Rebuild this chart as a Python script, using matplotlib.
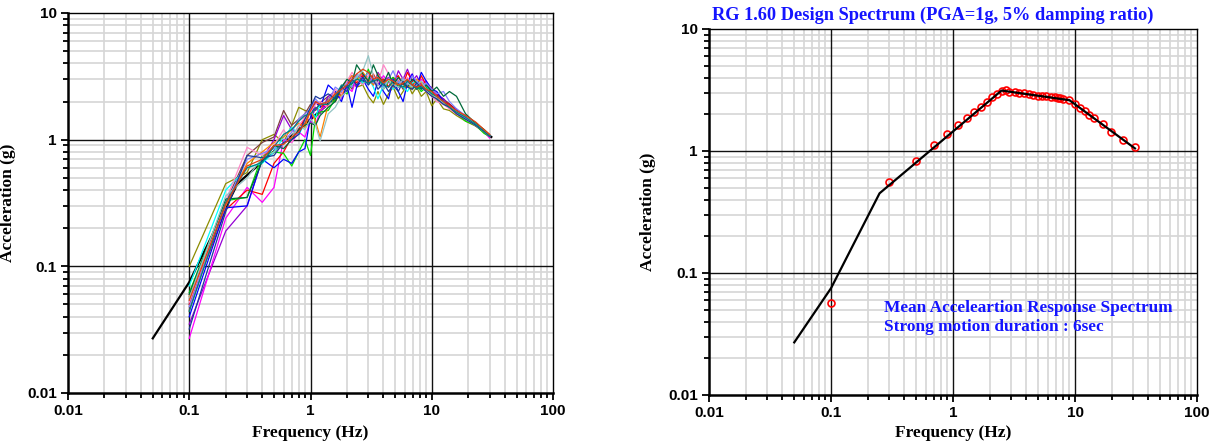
import matplotlib
matplotlib.use("Agg")
import matplotlib.pyplot as plt
from matplotlib.ticker import LogLocator, NullFormatter

# frequency grid of the individual spectra (Hz)
freq = [0.1, 0.2, 0.3, 0.4, 0.5, 0.6, 0.7, 0.8, 0.9, 1.0,
        1.1, 1.2, 1.4, 1.6, 1.8, 2.0, 2.2, 2.4, 2.7, 3.0,
        3.3, 3.6, 4.0, 4.4, 4.8, 5.3, 5.8, 6.3, 6.9, 7.5,
        8.2, 9.0, 10, 11, 12.5, 14, 16, 19, 23, 27, 30]

# response spectra of the individual time histories (g)
s_olive = [0.10, 0.45, 0.55, 1.00, 1.10, 0.95, 1.30, 1.80, 1.70, 1.65,
           1.80, 1.70, 2.10, 2.00, 2.40, 2.30, 2.90, 2.60, 2.70, 2.20,
           1.95, 2.40, 1.90, 2.30, 2.60, 2.10, 2.40, 2.80, 2.30, 2.60,
           2.20, 2.40, 1.85, 2.10, 1.75, 1.70, 1.55, 1.40, 1.28, 1.15, 1.07]
s_wine = [0.045, 0.32, 0.75, 0.95, 1.05, 1.70, 1.30, 1.45, 1.60, 1.90,
          1.70, 1.95, 2.20, 2.00, 2.60, 2.90, 2.50, 3.10, 3.40, 2.80,
          3.20, 2.70, 3.00, 2.60, 3.10, 2.90, 2.50, 3.00, 2.80, 2.50,
          2.90, 2.40, 2.60, 2.20, 2.10, 1.90, 1.65, 1.52, 1.30, 1.20, 1.08]
s_violet = [0.035, 0.19, 0.30, 0.70, 1.00, 1.55, 1.20, 1.10, 1.50, 1.40,
            1.80, 1.60, 2.20, 2.40, 2.10, 2.80, 3.20, 2.60, 3.30, 3.10,
            2.70, 3.40, 2.90, 3.10, 2.60, 3.50, 3.00, 3.60, 2.90, 3.20,
            2.70, 2.90, 2.50, 2.30, 2.10, 1.80, 1.75, 1.50, 1.33, 1.16, 1.05]
s_magenta = [0.027, 0.24, 0.42, 0.32, 0.42, 1.00, 0.95, 1.15, 1.05, 1.40,
             1.30, 1.70, 1.90, 2.30, 2.10, 2.60, 2.40, 3.00, 3.30, 2.90,
             3.10, 2.70, 3.20, 2.80, 3.00, 2.60, 3.10, 2.90, 3.30, 2.70,
             3.00, 2.80, 2.50, 2.20, 2.00, 1.80, 1.60, 1.45, 1.30, 1.15, 1.03]
s_red = [0.050, 0.28, 0.40, 0.37, 0.65, 0.80, 1.05, 1.20, 1.50, 1.60,
         2.00, 1.80, 2.00, 2.40, 2.20, 2.70, 3.00, 2.80, 3.20, 2.90,
         3.30, 2.80, 3.00, 2.60, 2.90, 3.20, 2.70, 3.40, 2.90, 2.60,
         3.20, 2.70, 2.50, 2.30, 2.00, 1.90, 1.70, 1.50, 1.33, 1.18, 1.09]
s_green = [0.062, 0.33, 0.35, 0.75, 0.80, 0.78, 0.62, 0.80, 1.00, 0.75,
           1.50, 1.65, 1.70, 2.10, 2.50, 2.30, 2.80, 3.10, 2.70, 3.60,
           2.80, 3.20, 2.50, 2.90, 3.10, 2.60, 2.80, 3.00, 2.50, 2.70,
           2.40, 2.60, 2.30, 2.10, 1.90, 1.80, 1.62, 1.40, 1.30, 1.12, 1.06]
s_blue = [0.040, 0.29, 0.30, 0.70, 0.60, 0.70, 0.65, 0.80, 0.85, 1.50,
          2.00, 1.80, 2.70, 2.40, 2.00, 2.70, 1.80, 2.60, 3.00, 2.50,
          2.20, 2.90, 2.40, 2.10, 3.00, 2.40, 2.00, 2.80, 3.30, 2.60,
          3.40, 2.90, 2.50, 2.40, 2.00, 1.85, 1.70, 1.50, 1.30, 1.17, 1.07]
s_cyan = [0.070, 0.40, 0.60, 0.65, 0.80, 1.05, 1.25, 1.10, 1.35, 1.70,
          1.50, 1.90, 2.00, 2.30, 2.60, 2.40, 3.00, 3.20, 2.80, 3.10,
          2.60, 2.10, 2.70, 3.00, 2.50, 2.90, 2.60, 2.40, 2.80, 2.90,
          2.50, 2.70, 2.30, 2.20, 2.00, 1.80, 1.66, 1.48, 1.30, 1.18, 1.08]
s_orange = [0.058, 0.30, 0.65, 0.80, 0.95, 1.05, 1.20, 1.35, 1.25, 1.70,
            1.40, 1.05, 1.90, 2.30, 2.20, 2.90, 3.20, 2.90, 3.40, 3.00,
            2.70, 3.30, 2.80, 3.00, 2.60, 2.90, 3.10, 2.70, 2.50, 3.00,
            2.80, 2.50, 2.30, 2.10, 1.95, 1.75, 1.65, 1.55, 1.35, 1.20, 1.10]
s_pink = [0.052, 0.33, 0.87, 0.75, 0.90, 1.20, 0.95, 1.30, 1.50, 1.65,
          1.90, 2.00, 1.80, 2.50, 2.30, 2.90, 3.40, 3.00, 2.70, 3.20,
          3.00, 2.80, 3.90, 3.30, 2.70, 3.00, 2.80, 3.10, 2.60, 2.80,
          2.60, 2.40, 2.20, 2.00, 1.90, 1.75, 1.60, 1.45, 1.30, 1.16, 1.06]
s_slate = [0.048, 0.31, 0.70, 0.78, 0.85, 0.95, 1.15, 1.45, 1.60, 1.75,
           2.10, 1.90, 2.00, 2.60, 2.40, 2.80, 2.60, 3.30, 3.00, 3.40,
           2.80, 3.20, 2.60, 3.00, 3.50, 2.80, 3.10, 2.70, 3.20, 2.90,
           2.60, 2.80, 2.50, 2.30, 2.40, 2.00, 1.75, 1.55, 1.35, 1.19, 1.09]
s_darkgreen = [0.060, 0.34, 0.35, 0.68, 0.90, 0.85, 1.00, 1.20, 1.30, 1.35,
               1.30, 1.55, 1.80, 2.00, 2.60, 3.00, 2.80, 3.90, 3.30, 2.90,
               3.90, 3.20, 2.80, 3.40, 2.70, 3.10, 2.80, 2.60, 3.00, 2.80,
               2.50, 2.70, 2.40, 2.60, 2.20, 2.40, 2.20, 1.60, 1.35, 1.20, 1.08]
s_cadet = [0.056, 0.36, 0.50, 0.72, 0.80, 0.92, 1.05, 1.30, 1.20, 1.45,
           1.30, 0.98, 1.60, 1.80, 2.20, 2.40, 2.90, 3.10, 3.50, 4.60,
           3.20, 2.70, 2.50, 3.00, 2.70, 2.60, 3.00, 2.80, 2.60, 2.70,
           2.90, 2.50, 2.30, 2.10, 1.95, 1.85, 1.65, 1.50, 1.32, 1.18, 1.07]
s_navy = [0.032, 0.27, 0.75, 0.72, 0.75, 0.95, 1.00, 1.10, 1.45, 1.80,
          2.20, 2.10, 2.30, 2.10, 2.60, 2.40, 3.00, 2.70, 3.10, 2.70,
          3.00, 2.50, 2.80, 2.40, 2.70, 2.40, 2.90, 2.60, 2.50, 2.80,
          2.60, 2.40, 2.20, 2.10, 1.90, 1.80, 1.60, 1.45, 1.30, 1.16, 1.06]
s_teal = [0.044, 0.32, 0.60, 0.66, 0.88, 1.10, 1.20, 1.40, 1.55, 1.60,
          1.75, 1.90, 1.90, 2.20, 2.70, 2.60, 2.80, 3.00, 2.90, 2.80,
          2.90, 3.00, 2.70, 2.60, 2.90, 2.70, 2.60, 2.90, 2.70, 2.50,
          2.60, 2.50, 2.30, 2.20, 2.00, 1.80, 1.65, 1.50, 1.32, 1.17, 1.07]
s_vermilion = [0.054, 0.31, 0.62, 0.70, 0.90, 0.92, 1.05, 1.15, 1.35, 1.70,
               2.00, 1.90, 2.00, 2.30, 2.50, 2.70, 3.00, 3.30, 3.60, 3.40,
               3.00, 3.10, 2.80, 3.00, 2.90, 2.70, 2.80, 3.00, 2.70, 2.60,
               2.70, 2.50, 2.40, 2.20, 2.00, 1.85, 1.70, 1.55, 1.38, 1.20, 1.10]

spectra = [
    (s_olive, "#8c8c00"), (s_wine, "#7f3f3f"), (s_violet, "#9400d3"),
    (s_magenta, "#ff00ff"), (s_red, "#ff0000"), (s_green, "#00dd00"),
    (s_blue, "#0000ff"), (s_cyan, "#00ffff"), (s_orange, "#ff8000"),
    (s_pink, "#ff88c8"), (s_slate, "#7f7fff"), (s_darkgreen, "#006a3a"),
    (s_cadet, "#93c4c4"), (s_navy, "#1a3a9a"), (s_teal, "#008080"),
    (s_vermilion, "#e04010"),
]

# RG 1.60 design spectrum, PGA = 1g, 5% damping
target_freq = [0.05, 0.1, 0.25, 2.5, 9.0, 31.0]
target_acc = [0.027, 0.075, 0.45, 3.13, 2.61, 1.05]

# mean acceleration response spectrum
mean_freq = [0.1, 0.3, 0.5, 0.7, 0.9, 1.1, 1.3, 1.5, 1.7, 1.9,
             2.1, 2.3, 2.5, 2.7, 2.9, 3.2, 3.5, 3.8, 4.2, 4.5,
             5.0, 5.4, 5.8, 6.3, 6.8, 7.2, 7.6, 8.0, 8.9, 10.0,
             11.0, 12.0, 13.1, 14.3, 16.9, 19.9, 24.7, 30.8]
mean_acc = [0.057, 0.56, 0.83, 1.11, 1.37, 1.62, 1.85, 2.07, 2.29, 2.53,
            2.75, 2.95, 3.08, 3.14, 3.06, 3.02, 3.00, 2.98, 2.93, 2.89,
            2.85, 2.84, 2.80, 2.77, 2.75, 2.71, 2.70, 2.66, 2.61, 2.44,
            2.27, 2.11, 1.97, 1.85, 1.65, 1.44, 1.22, 1.08]

xticks = [0.01, 0.1, 1, 10, 100]
xtick_labels = ["0.01", "0.1", "1", "10", "100"]
yticks = [0.01, 0.1, 1, 10]
ytick_labels = ["0.01", "0.1", "1", "10"]

serif = "Liberation Serif"
sans = "Liberation Sans"
text_blue = "#1414ff"

W, H = 1217, 446
fig = plt.figure(figsize=(W / 100, H / 100), dpi=100)
ax1 = fig.add_axes([68 / W, 1 - 393 / H, (553 - 68) / W, (393 - 13) / H])
ax2 = fig.add_axes([709 / W, 1 - 395 / H, (1197 - 709) / W, (395 - 29) / H])


def style_axes(ax):
    ax.set_xscale("log")
    ax.set_yscale("log")
    ax.set_xlim(0.01, 100)
    ax.set_ylim(0.01, 10)
    ax.set_xticks(xticks, xtick_labels)
    ax.set_yticks(yticks, ytick_labels)
    for axis in (ax.xaxis, ax.yaxis):
        axis.set_minor_locator(LogLocator(base=10, subs=range(2, 10), numticks=20))
        axis.set_minor_formatter(NullFormatter())
    ax.set_axisbelow(True)
    # light minor grid, black decade lines drawn over it
    ax.grid(which="minor", color="#d6d6d6", linewidth=1.2)
    for t in xticks[1:-1]:
        ax.axvline(t, color="#111111", linewidth=1.0, zorder=1)
    for t in yticks[1:-1]:
        ax.axhline(t, color="#111111", linewidth=1.0, zorder=1)
    ax.tick_params(which="both", direction="out", top=False, right=False,
                   width=1.3, colors="black")
    ax.tick_params(which="major", length=5, pad=3, labelsize=11)
    ax.tick_params(which="minor", length=3.5)
    for lab in ax.get_xticklabels() + ax.get_yticklabels():
        lab.set_fontfamily(sans)
        lab.set_fontweight("bold")
    for side in ("left", "bottom"):
        ax.spines[side].set_linewidth(1.8)
    for side in ("top", "right"):
        ax.spines[side].set_linewidth(1.0)
    ax.set_xlabel("Frequency (Hz)", fontfamily=serif, fontweight="bold", fontsize=12.5)
    ax.set_ylabel("Acceleration (g)", fontfamily=serif, fontweight="bold", fontsize=12.5)
    ax.xaxis.set_label_coords(0.5, -0.083)
    ax.yaxis.set_label_coords(-0.108, 0.5)


style_axes(ax1)
style_axes(ax2)

# left: individual spectra over the target
ax1.plot(target_freq, target_acc, color="black", linewidth=1.6, zorder=2)
for values, color in spectra:
    ax1.plot(freq, values, color=color, linewidth=0.9, zorder=3)

# right: mean spectrum against the target
ax2.plot(mean_freq, mean_acc, linestyle="none", marker="o", markersize=5,
         markerfacecolor="none", markeredgecolor="red", markeredgewidth=1.2, zorder=3)
ax2.plot(target_freq, target_acc, color="black", linewidth=1.6, zorder=4)

fig.text(712 / W, 1 - 15 / H, "RG 1.60 Design Spectrum (PGA=1g, 5% damping ratio)",
         fontfamily=serif, fontweight="bold", fontsize=13.2, color=text_blue,
         ha="left", va="center")
ax2.text(0.272, 0.052, "Mean Acceleartion Response Spectrum", fontfamily=serif,
         fontweight="bold", fontsize=12.4, color=text_blue, ha="left", va="center")
ax2.text(0.272, 0.036, "Strong motion duration : 6sec", fontfamily=serif,
         fontweight="bold", fontsize=12.4, color=text_blue, ha="left", va="center")

fig.savefig("out.png", dpi=100)
